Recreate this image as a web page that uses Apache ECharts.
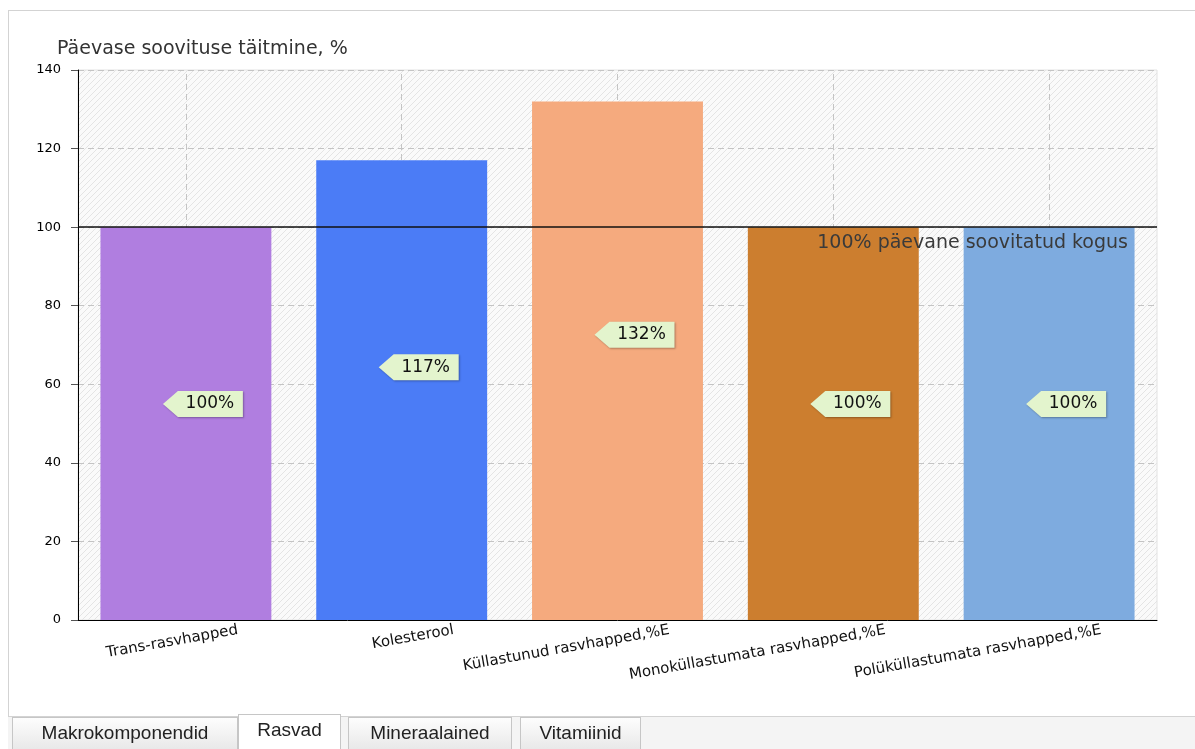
<!DOCTYPE html>
<html>
<head>
<meta charset="utf-8">
<script src="https://cdn.jsdelivr.net/npm/echarts@6/dist/echarts.min.js"></script>
<style>
  html, body { margin: 0; padding: 0; background: #fff; width: 1195px; height: 749px; overflow: hidden; }
  #panel { position: absolute; left: 8px; top: 10px; width: 1200px; height: 707px; border: 1px solid #d3d3d3; border-right: none; box-sizing: border-box; }
  #chart { position: absolute; left: 0; top: 0; width: 1195px; height: 749px; }
  #tabs { position: absolute; left: 8px; top: 716px; right: 0; height: 40px; background: #f4f4f4; border-top: 1px solid #d3d3d3; font-family: 'Liberation Sans', Arial, sans-serif; }
  .tab { position: absolute; top: 0; height: 40px; box-sizing: border-box; border: 1px solid #c6c6c6; background: linear-gradient(#fdfdfd, #e4e4e4); font-size: 19px; line-height: 22px; color: #222; padding-top: 4px; text-align: center; }
  .tab.active { top: -3px; background: #fff; border-bottom: none; }
</style>
</head>
<body>
<div id="panel"></div>
<div id="chart"></div>
<div id="tabs">
  <div class="tab" style="left:4px;width:226px">Makrokomponendid</div>
  <div class="tab active" style="left:230px;width:103px">Rasvad</div>
  <div class="tab" style="left:340px;width:164px">Mineraalained</div>
  <div class="tab" style="left:512px;width:121px">Vitamiinid</div>
</div>
<script>
// andmed
const categories = ['Trans-rasvhapped', 'Kolesterool', 'Küllastunud rasvhapped,%E', 'Monoküllastumata rasvhapped,%E', 'Polüküllastumata rasvhapped,%E']
const values = [100, 117, 132, 100, 100]
const barColors = ['#b07ee0', '#4b7cf6', '#f5aa7e', '#cc7e2f', '#7eabdf']
const yTicks = [0, 20, 40, 60, 80, 100, 120, 140]
const refValue = 100
const refLabel = '100% päevane soovitatud kogus'

// sildi kõrgus tulba suhtes
const LABEL_RATIO = 0.55
// kategooria nimede nihe (px) ja kalle (kraadi)
const CAT_SHIFT = 52
const CAT_ROTATE = 10

// viirutatud taust
const hatch = document.createElement('canvas')
hatch.width = 6
hatch.height = 6
const hc = hatch.getContext('2d')
hc.fillStyle = '#fafafa'
hc.fillRect(0, 0, 6, 6)
hc.strokeStyle = '#e4e4e4'
hc.lineWidth = 1
hc.beginPath()
hc.moveTo(-1, 7); hc.lineTo(7, -1)
hc.moveTo(-1, 1); hc.lineTo(1, -1)
hc.moveTo(5, 7); hc.lineTo(7, 5)
hc.stroke()

const chart = echarts.init(document.getElementById('chart'))

const option = {
  animation: false,
  textStyle: { fontFamily: 'DejaVu Sans' },
  title: {
    text: 'Päevase soovituse täitmine, %',
    left: 52,
    top: 35,
    textStyle: { fontSize: 19, fontWeight: 'normal', color: '#333', fontFamily: 'DejaVu Sans' }
  },
  grid: {
    left: 78, right: 38, top: 70, bottom: 129,
    show: true,
    backgroundColor: { image: hatch, repeat: 'repeat' },
    borderColor: '#e2e2e2',
    borderWidth: 1
  },
  xAxis: {
    type: 'category',
    data: categories,
    axisLine: { lineStyle: { color: '#000', width: 1 } },
    axisTick: { alignWithLabel: true, length: 7, lineStyle: { color: '#000' } },
    // nimed joonistab custom-seeria, et need saaks kaldu ja nihkega
    axisLabel: { show: false },
    splitLine: { show: false }
  },
  yAxis: {
    type: 'value',
    min: yTicks[0],
    max: yTicks[yTicks.length - 1],
    interval: yTicks[1] - yTicks[0],
    axisLine: { show: true, lineStyle: { color: '#000' } },
    axisTick: { show: true, length: 7, lineStyle: { color: '#555' } },
    axisLabel: { margin: 17, fontSize: 13, color: '#000' },
    splitLine: { lineStyle: { color: '#c4c4c4', type: [6, 4] } }
  },
  series: [
    {
      // pystjooned kategooriate keskel, tulpade taga
      type: 'line',
      data: [],
      z: 1,
      markLine: {
        silent: true,
        z: 1,
        symbol: 'none',
        label: { show: false },
        lineStyle: { color: '#c4c4c4', type: [6, 4], width: 1 },
        data: categories.map(c => ({ xAxis: c }))
      }
    },
    {
      type: 'bar',
      z: 2,
      barCategoryGap: '20.8%',
      data: values.map((v, i) => ({ value: v, itemStyle: { color: barColors[i] } })),
      markLine: {
        silent: true,
        symbol: 'none',
        lineStyle: { color: '#111', type: 'solid', width: 1.5 },
        label: {
          show: true,
          position: 'insideEndBottom',
          formatter: refLabel,
          distance: [29, 6],
          fontSize: 19,
          color: '#3a3a3a'
        },
        data: [{ yAxis: refValue }]
      }
    },
    {
      type: 'custom',
      z: 4,
      silent: true,
      clip: false,
      data: values.map((v, i) => [i, v]),
      encode: { x: 0, y: 1 },
      renderItem: (params, api) => {
        const idx = api.value(0)
        const v = api.value(1)
        const p = api.coord([idx, v * LABEL_RATIO])
        const base = api.coord([idx, 0])
        const x = p[0] - 23
        const y = p[1]
        return {
          type: 'group',
          children: [
            {
              type: 'polygon',
              shape: { points: [[x, y], [x + 15, y - 13], [x + 80, y - 13], [x + 80, y + 13], [x + 15, y + 13]] },
              style: { fill: '#e3f4cd', shadowColor: 'rgba(0,0,0,0.3)', shadowBlur: 2, shadowOffsetX: 1, shadowOffsetY: 1 }
            },
            {
              type: 'text',
              style: { text: v + '%', x: x + 47, y: y, align: 'center', verticalAlign: 'middle', font: '17px "DejaVu Sans"', fill: '#111' }
            },
            {
              type: 'text',
              x: base[0] + CAT_SHIFT,
              y: base[1] + 10,
              rotation: CAT_ROTATE * Math.PI / 180,
              style: { text: categories[idx], x: 0, y: 0, align: 'right', verticalAlign: 'middle', font: '15px "DejaVu Sans"', fill: '#111' }
            }
          ]
        }
      }
    }
  ]
}

chart.setOption(option)
</script>
</body>
</html>
